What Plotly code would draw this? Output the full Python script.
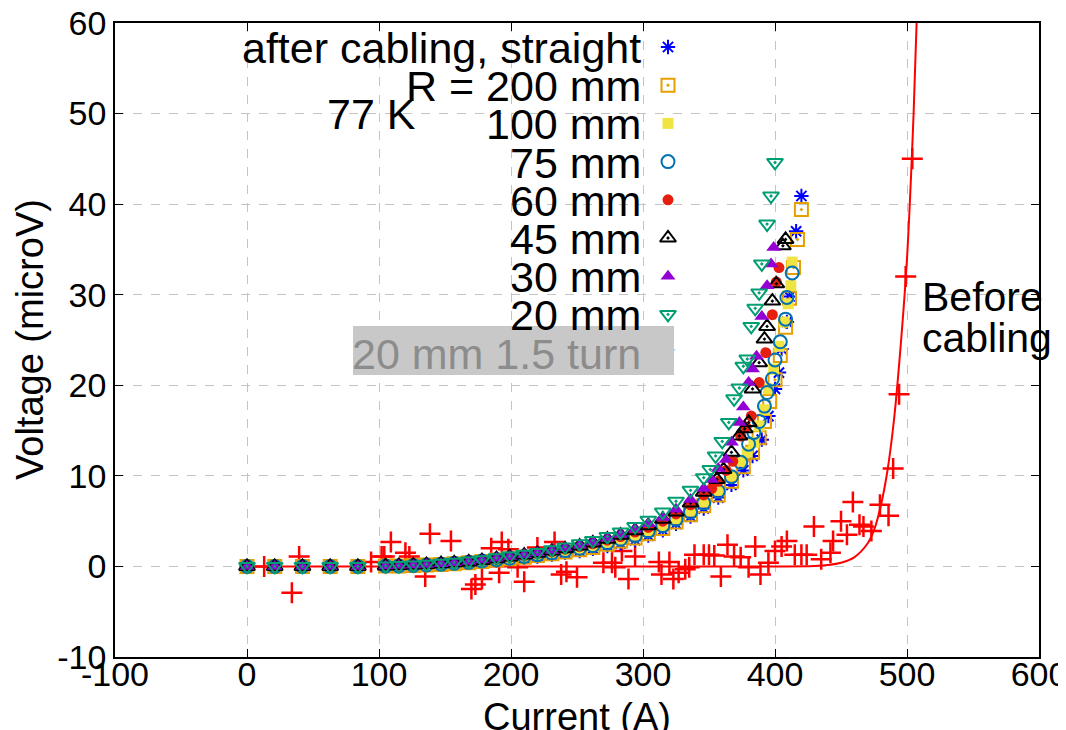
import plotly.graph_objects as go

# shared low-current grid (A)
i_low = [0, 21, 42, 63, 84, 105, 115, 126, 136, 147, 157, 168, 178, 189, 199,
         210, 220, 231, 241, 252, 262, 273, 283, 294, 304, 315, 325, 336, 346]

# after cabling, straight
v_low_straight = [0, 0, 0, 0, 0, 0.05, 0.05, 0.1, 0.15, 0.2, 0.3, 0.4, 0.5, 0.65, 0.8,
                  0.95, 1.1, 1.3, 1.5, 1.7, 1.95, 2.25, 2.55, 2.9, 3.4, 4.0, 4.7, 5.5, 6.4]
i_hi_straight = [357, 367, 376, 383, 390, 395, 400, 403, 405, 409, 411, 416, 420]
v_hi_straight = [7.6, 9.0, 10.6, 12.2, 14.0, 16.6, 19.6, 21.4, 24.0, 27.0, 29.8, 37.0, 40.9]

# R = 200 mm
v_low_200 = [0, 0, 0, 0, 0, 0.05, 0.05, 0.1, 0.15, 0.2, 0.3, 0.4, 0.55, 0.7, 0.85,
             1.0, 1.2, 1.4, 1.6, 1.85, 2.1, 2.45, 2.8, 3.15, 3.6, 4.2, 4.9, 5.7, 6.7]
i_hi_200 = [357, 367, 376, 383, 388, 392, 396, 400, 404, 408, 411, 414, 417, 420]
v_hi_200 = [7.9, 9.4, 11.0, 12.6, 14.2, 16.0, 18.2, 20.6, 23.3, 26.4, 29.6, 33.0, 36.1, 39.4]

# 100 mm
v_low_100 = [0, 0, 0, 0, 0, 0.05, 0.05, 0.1, 0.15, 0.25, 0.35, 0.45, 0.6, 0.75, 0.9,
             1.1, 1.3, 1.5, 1.75, 2.0, 2.3, 2.65, 3.0, 3.45, 3.95, 4.5, 5.25, 6.1, 7.1]
i_hi_100 = [357, 367, 374, 379, 384, 388, 392, 395, 399, 403, 407, 410, 412, 413]
v_hi_100 = [8.4, 10.0, 11.6, 12.6, 13.7, 15.5, 17.3, 19.6, 21.8, 24.3, 27.0, 29.0, 31.0, 33.6]

# 75 mm
v_low_75 = [0, 0, 0, 0, 0, 0.05, 0.05, 0.1, 0.15, 0.25, 0.35, 0.45, 0.6, 0.75, 0.9,
            1.1, 1.3, 1.5, 1.75, 2.0, 2.3, 2.6, 3.0, 3.4, 3.9, 4.5, 5.2, 6.0, 7.0]
i_hi_75 = [357, 367, 374, 380, 384, 388, 392, 394, 398, 400, 404, 408, 409, 413]
v_hi_75 = [8.3, 9.9, 11.5, 13.5, 14.8, 16.0, 17.7, 19.2, 20.7, 22.8, 24.8, 27.3, 29.7, 32.4]

# 60 mm
v_low_60 = [0, 0, 0, 0, 0, 0.05, 0.1, 0.15, 0.2, 0.3, 0.4, 0.5, 0.65, 0.8, 1.0,
            1.2, 1.4, 1.6, 1.9, 2.2, 2.5, 2.9, 3.3, 3.8, 4.3, 5.0, 5.8, 6.8, 7.9]
i_hi_60 = [352, 357, 363, 368, 374, 378, 382, 388, 393, 398, 401, 403]
v_hi_60 = [8.6, 9.4, 10.6, 11.6, 14.4, 15.4, 16.6, 20.3, 23.6, 27.8, 31.4, 33.0]

# 45 mm
v_low_45 = [0, 0, 0, 0, 0, 0.05, 0.1, 0.15, 0.2, 0.3, 0.4, 0.5, 0.65, 0.85, 1.05,
            1.25, 1.45, 1.7, 1.95, 2.25, 2.6, 3.0, 3.45, 3.95, 4.5, 5.2, 6.0, 7.0, 8.2]
i_hi_45 = [356, 361, 367, 373, 377, 380, 383, 388, 392, 394, 398, 401, 406, 408]
v_hi_45 = [9.6, 10.7, 12.6, 14.4, 15.2, 15.9, 19.6, 22.5, 25.1, 26.5, 29.3, 31.2, 35.4, 36.1]

# 30 mm
v_low_30 = [0, 0, 0, 0, 0, 0.05, 0.1, 0.15, 0.2, 0.3, 0.4, 0.55, 0.7, 0.9, 1.1,
            1.3, 1.5, 1.75, 2.05, 2.35, 2.7, 3.1, 3.55, 4.1, 4.7, 5.4, 6.3, 7.4, 8.6]
i_hi_30 = [352, 357, 363, 367, 373, 376, 380, 383, 386, 390, 394, 397, 399]
v_hi_30 = [9.6, 10.8, 11.8, 13.7, 15.9, 17.6, 20.3, 21.8, 23.2, 27.6, 31.0, 33.4, 35.2]

# 20 mm
v_low_20 = [0, 0, 0, 0, 0, 0.05, 0.1, 0.15, 0.25, 0.35, 0.45, 0.6, 0.75, 0.95, 1.15,
            1.35, 1.55, 1.85, 2.15, 2.5, 2.85, 3.3, 3.8, 4.4, 5.1, 6.0, 7.2, 8.4, 9.8]
i_hi_20 = [351, 355, 360, 365, 369, 373, 376, 379, 382, 385, 388, 390, 394, 397, 400]
v_hi_20 = [10.7, 12.2, 13.8, 15.9, 18.5, 19.7, 22.1, 22.9, 26.5, 28.5, 30.2, 33.4, 37.8, 40.9, 44.6]

# before cabling: measured points and fit
i_before = [13, 34, 39.5, 94, 102, 104, 109, 120, 123, 135, 138.6, 154.5, 170, 173, 178,
            185, 191, 193, 198, 205, 210, 220, 233, 238, 242, 250, 270, 276.5, 279, 284,
            289, 294, 312, 314, 320, 323, 327, 332, 335, 339, 346, 350, 354, 359, 364,
            369, 374, 380, 385, 389, 395, 400, 405, 409, 415, 420, 424, 429.5, 435, 442,
            444, 450, 454.5, 459, 464, 467, 473, 479.5, 486, 489.5, 494, 499, 504]
v_before = [0, -2.9, 1.1, 0.5, 1.1, 1.1, 2.7, 1.5, 1.1, -1.1, 3.6, 2.8, -2.5, -2.0, -1.4,
            2.0, -0.7, 2.7, 1.9, -0.1, -1.7, 2.1, 2.7, -0.9, -0.6, -1.2, 0.4, 0.4, -0.1, 1.7,
            -1.4, 1.1, 0.5, -0.9, 0.5, -1.4, -0.7, -0.3, -0.1, 1.3, 1.3, 1.3, 1.2, -1.1, 2.4,
            1.1, 1.0, -0.1, 2.2, -0.9, 0.4, 1.7, 2.2, 2.8, 1.3, 1.3, 1.3, 4.4, 0.8, 1.5,
            2.8, 5.0, 3.5, 7.1, 4.6, 4.4, 3.9, 6.8, 5.6, 10.8, 19, 32, 45]
i_fit = [0, 100, 200, 300, 400, 430, 440, 450, 460, 470, 475, 480, 485, 490, 495, 500, 505, 510]
v_fit = [0, 0, 0, 0, 0, 0.05, 0.15, 0.4, 1.0, 2.5, 4.0, 6.6, 10.4, 16, 24, 34, 50, 72]

x_ticks = [-100, 0, 100, 200, 300, 400, 500, 600]
x_ticktext = ["-100", "0", "100", "200", "300", "400", "500", "600"]
y_ticks = [-10, 0, 10, 20, 30, 40, 50, 60]
y_ticktext = ["-10", "0", "10", "20", "30", "40", "50", "60"]

legend_labels = ["after cabling, straight", "R = 200 mm", "100 mm", "75 mm", "60 mm",
                 "45 mm", "30 mm", "20 mm", "20 mm 1.5 turn"]

FONT = "Liberation Sans, Arial, sans-serif"

# (low values, hi currents, hi values, symbol, colour, size)
series = [
    (v_low_straight, i_hi_straight, v_hi_straight, "asterisk-open", "#0000ff", 12),
    (v_low_200, i_hi_200, v_hi_200, "square-open-dot", "#e69f00", 13),
    (v_low_100, i_hi_100, v_hi_100, "square", "#f0e442", 11),
    (v_low_75, i_hi_75, v_hi_75, "circle-open", "#0072b2", 13),
    (v_low_60, i_hi_60, v_hi_60, "circle", "#e51e10", 11),
    (v_low_45, i_hi_45, v_hi_45, "triangle-up-open-dot", "#000000", 14),
    (v_low_30, i_hi_30, v_hi_30, "triangle-up", "#9400d3", 13),
    (v_low_20, i_hi_20, v_hi_20, "triangle-down-open-dot", "#009e73", 14),
]
hidden_style = ("triangle-down", "#56b4e9", 13)

fig = go.Figure()

fig.add_trace(go.Scatter(x=i_fit, y=v_fit, mode="lines", line=dict(color="#ff0000", width=2, shape="spline"),
                         showlegend=False, hoverinfo="skip"))
fig.add_trace(go.Scatter(x=i_before, y=v_before, mode="markers",
                         marker=dict(symbol="cross-thin-open", size=15, color="#ff0000",
                                     line=dict(color="#ff0000", width=2.5)),
                         showlegend=False))

for v_low, i_hi, v_hi, sym, col, sz in series:
    filled = "open" not in sym
    fig.add_trace(go.Scatter(
        x=i_low + i_hi, y=v_low + v_hi, mode="markers", showlegend=False,
        marker=dict(symbol=sym, size=sz, color=col,
                    line=dict(color=col, width=0 if filled else 2)),
    ))

# page is drawn with an 8px body margin, so the figure is shifted by (8, 8)
OFF = 8
W, H, L, T = 924, 634, 115, 23          # plot area in page pixels
def px(x):
    return (x - L) / W
def py(y):
    return (T + H - y) / H

# hand-made legend (text right aligned, symbol on the right)
row_y = [47 + 38.2 * k for k in range(len(legend_labels))]
styles = [(s[3], s[4], s[5]) for s in series] + [hidden_style]

fig.add_shape(type="rect", xref="paper", yref="paper", x0=px(353), x1=px(674),
              y0=py(375), y1=py(326), fillcolor="#c8c8c8", line=dict(width=0), layer="above")

for k, (lab, (sym, col, sz)) in enumerate(zip(legend_labels, styles)):
    last = k == len(legend_labels) - 1
    fig.add_annotation(x=px(643), y=py(row_y[k] + 1), xref="paper", yref="paper", text=lab,
                       showarrow=False, xanchor="right", yanchor="middle",
                       font=dict(family=FONT, size=43, color="#8c8c8c" if last else "black"))
    filled = "open" not in sym
    fig.add_trace(go.Scatter(
        x=[px(668)], y=[py(row_y[k])], xaxis="x2", yaxis="y2", mode="markers", showlegend=False,
        opacity=0.75 if last else 1,
        marker=dict(symbol=sym, size=sz, color=col, line=dict(color=col, width=0 if filled else 2)),
    ))

fig.add_annotation(x=px(371), y=py(114), xref="paper", yref="paper", text="77 K", showarrow=False,
                   xanchor="center", yanchor="middle", font=dict(family=FONT, size=43, color="black"))
fig.add_annotation(x=px(920), y=py(297), xref="paper", yref="paper", text="Before", showarrow=False,
                   xanchor="left", yanchor="middle", font=dict(family=FONT, size=41, color="black"))
fig.add_annotation(x=px(920), y=py(338), xref="paper", yref="paper", text="cabling", showarrow=False,
                   xanchor="left", yanchor="middle", font=dict(family=FONT, size=41, color="black"))

# axis titles
fig.add_annotation(x=px(30), y=0.5, xref="paper", yref="paper", text="Voltage (microV)",
                   textangle=-90, showarrow=False, xanchor="center", yanchor="middle",
                   font=dict(family=FONT, size=38, color="black"))
fig.add_annotation(x=0.5, y=py(694), xref="paper", yref="paper", text="Current (A)",
                   showarrow=False, xanchor="center", yanchor="top",
                   font=dict(family=FONT, size=38, color="black"))

axis_common = dict(showgrid=True, gridcolor="#c4c4c4", griddash="dash", gridwidth=1,
                   zeroline=False, showline=True, linecolor="black", linewidth=1.5,
                   mirror="ticks", ticks="inside", ticklen=8, tickcolor="black",
                   automargin=False, ticklabeloverflow="allow",
                   tickfont=dict(family=FONT, size=34, color="black"))

fig.update_layout(
    width=1066 - OFF, height=730 - OFF,
    margin=dict(l=L - OFF, r=1066 - L - W, t=T - OFF, b=730 - T - H, autoexpand=False),
    paper_bgcolor="white", plot_bgcolor="white",
    xaxis=dict(range=[-100, 600], tickvals=x_ticks, ticktext=x_ticktext,
               ticklabelstandoff=-14, **axis_common),
    yaxis=dict(range=[-10, 60], tickvals=y_ticks, ticktext=y_ticktext, **axis_common),
    xaxis2=dict(overlaying="x", anchor="y2", range=[0, 1], visible=False),
    yaxis2=dict(overlaying="y", anchor="x2", range=[0, 1], visible=False),
    showlegend=False,
)

fig.write_html("out.html")
